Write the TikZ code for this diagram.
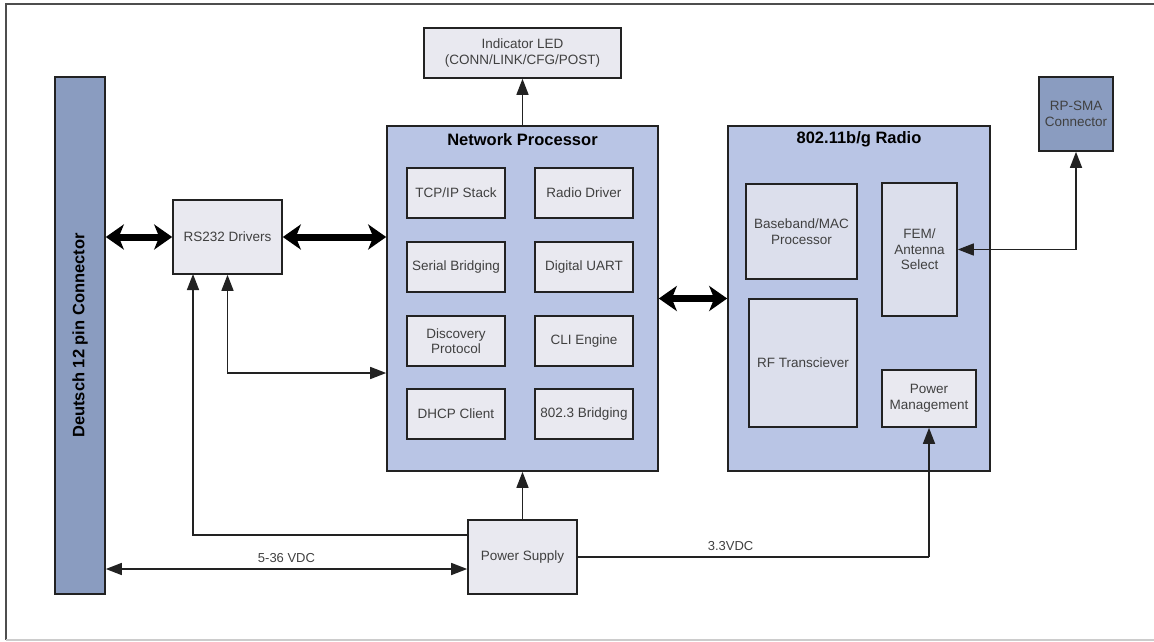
\documentclass[tikz,border=0pt]{standalone}
\usepackage{fontspec}
\setmainfont{Liberation Sans}
\usetikzlibrary{arrows.meta}
\definecolor{procfill}{HTML}{B9C5E5}
\definecolor{boxfill}{HTML}{E9E9F0}
\definecolor{radiobox}{HTML}{DCDFEC}
\definecolor{connfill}{HTML}{8A9CC0}
\definecolor{edge}{HTML}{222222}
\definecolor{txt}{HTML}{404040}
\tikzset{
  blk/.style={draw=edge, line width=1.6pt, inner sep=0pt, align=center,
    text=txt, font=\fontsize{13.5}{15.5}\selectfont},
  sub/.style={blk, fill=boxfill},
  rsub/.style={blk, fill=radiobox},
  big/.style={draw=edge, line width=1.6pt, fill=procfill, inner sep=0pt},
  conn/.style={blk, fill=connfill},
  ttl/.style={font=\fontsize{16.5}{18}\bfseries, text=black},
  wire/.style={draw=edge, line width=1.5pt},
  tip/.style={-{Triangle[length=16pt 0 0,width=12pt 0 0]}},
  tips/.style={{Triangle[length=16pt 0 0,width=12pt 0 0]}-{Triangle[length=16pt 0 0,width=12pt 0 0]}},
  bus/.style={draw=black, line width=7pt,
    {Stealth[length=18pt 0 0,width=25pt 0 0,inset=5pt 0]}-{Stealth[length=18pt 0 0,width=25pt 0 0,inset=5pt 0]}},
  lbl/.style={text=txt, font=\fontsize{13}{15}\selectfont}
}
\begin{document}
\begin{tikzpicture}[x=1pt,y=-1pt]
\useasboundingbox (0,0) rectangle (1154,642);
% frame
\draw[draw=edge!80, line width=1.5pt] (6,640) -- (6,4) -- (1154,4);
\draw[draw=black!20, line width=1.5pt] (6,640) -- (1154,640);

% Deutsch connector
\node[conn, minimum width=50pt, minimum height=517pt] (deu) at (80,335.5) {};
\node[ttl, rotate=90] (deutxt) at (deu.center) {Deutsch 12 pin Connector};

% RS232
\node[sub, minimum width=109pt, minimum height=74pt] (rs) at (227.5,237) {RS232 Drivers};

% Network processor
\node[big, minimum width=271pt, minimum height=345pt] (np) at (522.5,298.5) {};
\node[ttl] (nptitle) at ([yshift=-14pt]np.north) {Network Processor};
\node[sub, minimum width=98pt, minimum height=50pt] (tcp) at (456,193) {TCP/IP Stack};
\node[sub, minimum width=98pt, minimum height=50pt] (rdrv) at (584,193) {Radio Driver};
\node[sub, minimum width=98pt, minimum height=50pt] (ser) at (456,267) {Serial Bridging};
\node[sub, minimum width=98pt, minimum height=50pt] (uart) at (584,267) {Digital UART};
\node[sub, minimum width=98pt, minimum height=50pt] (disc) at (456,341) {Discovery\\Protocol};
\node[sub, minimum width=98pt, minimum height=50pt] (cli) at (584,341) {CLI Engine};
\node[sub, minimum width=98pt, minimum height=50pt] (dhcp) at (456,414) {DHCP Client};
\node[sub, minimum width=98pt, minimum height=50pt] (br) at (584,414) {802.3 Bridging};

% LED
\node[sub, minimum width=197pt, minimum height=50pt] (led) at (522.5,53) {Indicator LED\\(CONN/LINK/CFG/POST)};

% Radio
\node[big, minimum width=262pt, minimum height=345pt] (rad) at (859,298.5) {};
\node[ttl] (radtitle) at ([yshift=-14pt]rad.north) {802.11b/g Radio};
\node[rsub, minimum width=111pt, minimum height=95pt] (bb) at (801.5,231.5) {Baseband/MAC\\Processor};
\node[rsub, minimum width=75pt, minimum height=133pt] (fem) at (919.5,249.5) {FEM/\\Antenna\\Select};
\node[rsub, minimum width=108pt, minimum height=128pt] (rf) at (803,363) {RF Transciever};
\node[sub, minimum width=94pt, minimum height=57pt] (pm) at (929,398.5) {Power\\Management};

% RP-SMA
\node[conn, minimum width=74pt, minimum height=74pt] (sma) at (1076,114) {RP-SMA\\Connector};

% Power supply
\node[sub, minimum width=109pt, minimum height=74pt] (ps) at (522.5,557) {Power Supply};

% buses
\draw[bus] (deu.east |- rs.west) -- (rs.west);
\draw[bus] (rs.east) -- (np.west |- rs.east);
\draw[bus] (np.east) -- (rad.west);

% thin connections
\draw[wire, tip] (np.north) -- (led.south);
\draw[wire, tip] (ps.north) -- (np.south);
\draw[wire, tips] (fem.east) -| (sma.south);
\coordinate (psl) at (ps.west |- 0,535);
\coordinate (rsl) at (193,274);
\draw[wire, tip] (psl) -| (rsl);
\coordinate (npl) at (np.west |- 0,373);
\draw[wire, tips] (rs.south) |- (npl);
\coordinate (v1) at (deu.east |- 0,569);
\coordinate (v2) at (ps.west |- 0,569);
\draw[wire, tips] (v1) -- node[lbl, above=2pt] {5-36 VDC} (v2);
\coordinate (v3) at (pm.south |- ps.east);
\draw[wire] (ps.east) -- node[lbl, above=2pt, pos=0.435] {3.3VDC} (v3);
\draw[wire, tip] (v3) -- (pm.south);
\end{tikzpicture}
\end{document}
